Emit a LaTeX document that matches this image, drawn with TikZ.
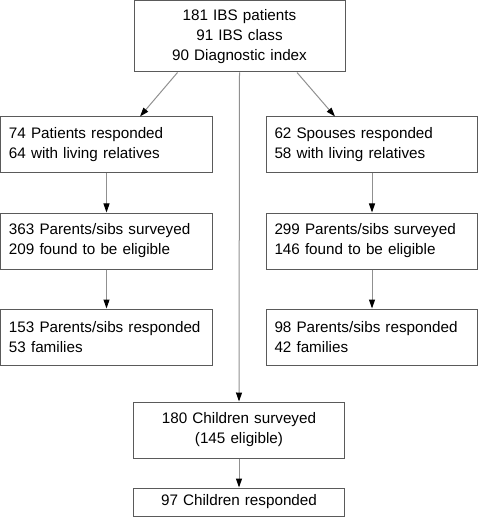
\documentclass[tikz,border=0pt]{standalone}
\usepackage{fontspec}
\setmainfont{Liberation Sans}
\usepackage{tikz}
\usetikzlibrary{arrows.meta}
\definecolor{boxgray}{HTML}{5A5A5A}
\definecolor{linegray}{HTML}{909090}
\tikzset{
    box/.style={draw=boxgray, line width=1bp, inner xsep=8bp, inner ysep=0bp,
        text width=195bp, font=\fontsize{15.3}{20}\selectfont},
    lbox/.style={box, align=left},
    cbox/.style={box, align=center},
    arr/.style={draw=linegray, line width=1bp, -{Triangle[length=9bp,width=6bp,color=black]}}
}
\begin{document}
\begin{tikzpicture}[x=1bp, y=-1bp]
    \useasboundingbox (0,0) rectangle (480,518);
    \path
        (239.5,36.5) node(ibs)[cbox, minimum height=71bp]{181 IBS patients\\91 IBS class\\90 Diagnostic index}
        (106.5,145) node(pat1)[lbox, minimum height=56bp]{74 Patients responded\\64 with living relatives}
        (106.5,241) node(pat2)[lbox, minimum height=56bp]{363 Parents/sibs surveyed\\209 found to be eligible}
        (106.5,337) node(pat3)[lbox, minimum height=56bp]{153 Parents/sibs responded\\53 families}
        (372,145) node(sp1)[lbox, minimum height=56bp]{62 Spouses responded\\58 with living relatives}
        (372,241) node(sp2)[lbox, minimum height=56bp]{299 Parents/sibs surveyed\\146 found to be eligible}
        (372,337) node(sp3)[lbox, minimum height=56bp]{98 Parents/sibs responded\\42 families}
        (239,430) node(chs)[cbox, minimum height=56bp]{180 Children surveyed\\(145 eligible)}
        (239,502) node(chr)[cbox, minimum height=28bp]{97 Children responded};
    % from the patient group
    \draw [arr] ([xshift=-62bp]ibs.south) -- ([xshift=33.5bp]pat1.north);
    \draw [arr] ([xshift=57.5bp]ibs.south) -- ([xshift=-37bp]sp1.north);
    \draw [arr] (ibs.south) -- (chs.north);
    % columns
    \draw [arr] (pat1) -- (pat2);
    \draw [arr] (pat2) -- (pat3);
    \draw [arr] (sp1) -- (sp2);
    \draw [arr] (sp2) -- (sp3);
    \draw [arr] (chs) -- (chr);
\end{tikzpicture}
\end{document}
